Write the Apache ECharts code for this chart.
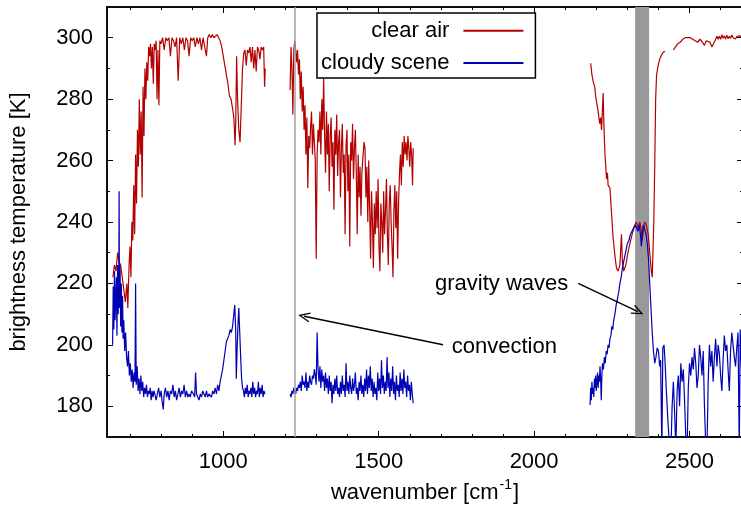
<!DOCTYPE html>
<html><head><meta charset="utf-8">
<script src="https://cdn.jsdelivr.net/npm/echarts@6/dist/echarts.min.js"></script>
<style>html,body{margin:0;padding:0;background:#fff}#c{width:741px;height:505px}</style>
</head><body><div id="c"></div>
<script>
const xMin = 626, xMax = 2672, yMin = 170, yMax = 310;
const xMajorTicks = [1000, 1500, 2000, 2500];
const xMinorTicks = [700, 800, 900, 1100, 1200, 1300, 1400, 1600, 1700, 1800, 1900, 2100, 2200, 2300, 2400, 2600];
const yMajorTicks = [180, 200, 220, 240, 260, 280, 300];
const yMinorTicks = [190, 210, 230, 250, 270, 290];
const seriesNames = ['clear air', 'cloudy scene'];
const xAxisTitle = '{a|wavenumber [cm}{s|-1}{a|]}';
const yAxisTitle = 'brightness temperature [K]';

// clear air spectrum, three measured windows [wavenumber, K]
const clearAir1 = [[645,222],[650,226],[655,224],[660,230],[665,227],[670,226],[675,222],[680,218],[685,214],[690,220],[693,212],[697,226],[700,232],[703,222],[706,240],[709,234],[712,252],[715,236],[718,262],[721,246],[724,270],[727,258],[730,280],[733,262],[736,276],[739,248],[742,284],[745,268],[748,290],[751,280],[754,292],[757,286],[760,297],[763,294],[766,298],[769,290],[772,297],[775,285],[778,298],[781,296],[784,299],[787,280],[790,296],[793,278],[796,299],[800,298],[805,300],[810,296],[815,300],[820,299],[825,300],[830,294],[835,300],[840,299],[845,297],[850,300],[855,286],[860,300],[865,298],[870,300],[875,296],[880,300],[885,299],[890,294],[895,300],[900,299],[905,300],[910,297],[915,300],[920,298],[925,300],[930,296],[935,300],[940,300],[946,294],[950,300],[955,301],[960,300],[965,301],[970,300],[975,300],[980,301],[985,300],[990,299],[995,297],[1000,294],[1005,291],[1010,288],[1015,285],[1020,281],[1025,280],[1030,277],[1034,274],[1036,270],[1038,265],[1040,272],[1043,294],[1046,280],[1050,270],[1054,266],[1058,278],[1062,290],[1066,295],[1070,296],[1074,291],[1078,296],[1082,295],[1086,297],[1090,292],[1094,297],[1098,290],[1102,296],[1106,289],[1110,297],[1114,296],[1118,293],[1122,297],[1126,296],[1130,297],[1133,284],[1135,290]];
const clearAir2 = [[1215,283],[1218,297],[1221,290],[1224,275],[1227,296],[1230,299],[1233,296],[1236,292],[1239,296],[1242,288],[1245,293],[1248,280],[1251,289],[1254,276],[1257,284],[1260,270],[1263,278],[1266,262],[1269,274],[1272,251],[1275,268],[1278,264],[1281,271],[1284,276],[1287,262],[1290,272],[1293,266],[1296,260],[1299,228],[1302,262],[1305,270],[1308,266],[1311,276],[1314,262],[1317,280],[1320,270],[1323,287],[1326,268],[1329,256],[1332,276],[1335,262],[1338,272],[1341,250],[1344,268],[1347,274],[1350,258],[1353,266],[1356,244],[1359,270],[1362,262],[1365,275],[1368,255],[1371,266],[1374,270],[1377,248],[1380,264],[1383,272],[1386,256],[1389,262],[1392,236],[1395,265],[1398,270],[1401,250],[1404,262],[1407,232],[1410,266],[1413,260],[1416,272],[1419,254],[1422,264],[1425,270],[1428,256],[1431,236],[1434,262],[1437,248],[1440,258],[1443,242],[1446,256],[1450,262],[1453,266],[1456,264],[1459,248],[1462,258],[1465,240],[1468,260],[1471,244],[1474,228],[1477,250],[1480,240],[1483,225],[1486,246],[1489,236],[1492,250],[1495,238],[1498,254],[1501,232],[1504,224],[1507,246],[1510,240],[1513,230],[1516,250],[1519,236],[1522,244],[1525,254],[1528,236],[1531,226],[1534,246],[1537,252],[1540,240],[1543,232],[1546,222],[1549,244],[1552,252],[1555,238],[1558,250],[1561,228],[1564,246],[1567,256],[1570,262],[1573,252],[1576,266],[1579,258],[1582,268],[1585,262],[1588,266],[1591,260],[1594,268],[1597,264],[1600,258],[1603,266],[1606,262],[1609,252],[1611,264]];
const clearAir3 = [[2182,291.7],[2186,288],[2190,285.7],[2195,284],[2198,281],[2201,279],[2206,276],[2211,272],[2214,274],[2217,270],[2222,282],[2225,270],[2228,262],[2233,254],[2236,256],[2238,252],[2244,251],[2249,243],[2254,235],[2260,229],[2265,225],[2270,224],[2276,226],[2281,236],[2284,227],[2288,224],[2295,226],[2302,230],[2308,233],[2313,235],[2318,237],[2324,239],[2329,240],[2334,238],[2340,240],[2345,237],[2348,234],[2352,238],[2356,240],[2361,239],[2367,236],[2372,230],[2377,224],[2380,222],[2385,240],[2388,258],[2391,280],[2394,288],[2399,291],[2404,293],[2411,294.6],[2416,295.3],[2421,295.5],[2434,null],[2448,296],[2455,297],[2462,298],[2470,298.5],[2478,299.5],[2486,300],[2494,300],[2502,300],[2510,299.5],[2518,299],[2526,298.5],[2534,299.5],[2542,298.5],[2548,297.5],[2554,299],[2560,299.5],[2566,298.5],[2572,297],[2578,297.5],[2584,299.5],[2588,300.5],[2592,299.5],[2596,300.5],[2600,299.5],[2604,301],[2608,299.8],[2612,300.6],[2616,299.6],[2620,300.8],[2624,299.7],[2628,300.5],[2632,299.8],[2636,300.9],[2640,300],[2644,300.5],[2648,299.6],[2652,300.4],[2656,300],[2660,300.6],[2672,300.2]];

// cloudy scene spectrum
const cloudy1 = [[644,200],[646,219],[648,205],[650,224],[652,208],[654,216],[656,222],[658,203],[660,226],[662,210],[664,224],[665,250],[666,212],[668,226],[670,206],[672,220],[674,204],[676,216],[678,202],[680,208],[683,198],[686,204],[689,196],[692,193],[695,198],[698,190],[701,194],[704,188],[707,192],[710,186],[713,191],[716,188],[718,220],[720,187],[723,193],[726,185],[729,189],[732,184],[735,190],[738,185],[741,188],[744,183],[747,186],[750,184],[753,187],[756,183],[759,185],[762,184],[765,186],[768,182],[771,185],[774,183],[777,185],[780,184],[784,182],[788,184],[792,186],[796,183],[800,185],[804,181],[807,179],[810,184],[814,186],[818,183],[822,185],[826,182],[830,185],[834,184],[838,187],[842,183],[846,185],[850,182],[854,184],[858,186],[862,183],[866,185],[870,184],[874,187],[878,183],[882,185],[886,183],[890,184],[894,183],[898,185],[904,184],[908,183],[911,191],[914,184],[918,183],[922,182],[926,184],[930,183],[934,185],[938,184],[942,183],[946,185],[950,183],[954,184],[958,184],[962,183],[966,185],[970,184],[974,186],[978,184],[982,187],[986,185],[990,188],[994,190],[998,192],[1002,195],[1006,198],[1010,201],[1014,202],[1018,203],[1022,205],[1026,204],[1030,206],[1034,210],[1037,213],[1040,205],[1042,189],[1045,200],[1048,208],[1050,212],[1053,204],[1056,196],[1059,189],[1062,186],[1065,185],[1068,183],[1071,186],[1074,184],[1077,187],[1080,183],[1083,185],[1086,184],[1089,186],[1092,183],[1095,188],[1098,184],[1101,186],[1104,183],[1107,185],[1110,184],[1113,188],[1116,183],[1119,186],[1122,184],[1125,187],[1128,183],[1131,185],[1134,184]];
const cloudy2 = [[1215,184],[1218,183],[1221,185],[1224,184],[1227,186],[1230,185],[1233,184],[1236,186],[1239,185],[1242,187],[1245,186],[1248,188],[1251,185],[1254,190],[1257,187],[1260,188],[1263,186],[1266,191],[1269,185],[1272,188],[1275,186],[1278,190],[1281,188],[1284,187],[1287,190],[1290,189],[1293,192],[1296,190],[1299,187],[1302,204],[1305,192],[1308,188],[1311,193],[1314,186],[1317,192],[1320,188],[1323,190],[1326,185],[1329,191],[1332,186],[1335,189],[1338,184],[1341,190],[1344,185],[1347,188],[1350,181],[1353,187],[1356,184],[1359,189],[1362,185],[1365,190],[1368,184],[1371,186],[1374,183],[1377,188],[1380,184],[1383,190],[1386,185],[1389,187],[1392,183],[1395,194],[1398,185],[1401,188],[1404,184],[1407,190],[1410,186],[1413,184],[1416,189],[1419,185],[1422,187],[1425,191],[1428,184],[1431,186],[1434,182],[1437,188],[1440,185],[1443,190],[1446,184],[1449,187],[1452,183],[1455,189],[1458,185],[1461,192],[1464,184],[1467,190],[1470,186],[1473,193],[1476,185],[1479,189],[1482,183],[1485,188],[1488,184],[1491,186],[1494,182],[1497,191],[1500,185],[1503,189],[1506,184],[1509,195],[1512,186],[1515,190],[1518,184],[1521,188],[1524,185],[1527,196],[1530,186],[1533,191],[1536,183],[1539,189],[1542,185],[1545,193],[1548,184],[1551,188],[1554,182],[1557,190],[1560,185],[1563,187],[1566,183],[1569,191],[1572,185],[1575,189],[1578,184],[1581,192],[1584,186],[1587,188],[1590,183],[1593,190],[1596,185],[1599,187],[1602,182],[1605,188],[1608,184],[1611,181]];
const cloudy3 = [[2180,180.4],[2182,186],[2184,182],[2186,188],[2188,184],[2190,186],[2192,183],[2194,189],[2196,186],[2198,190],[2200,185],[2202,188],[2204,191],[2206,186],[2208,190],[2210,188],[2212,193],[2214,189],[2216,182],[2218,190],[2220,194],[2223,192],[2226,196],[2229,194],[2232,198],[2235,197],[2238,200],[2241,199],[2244,202],[2247,203],[2250,206],[2253,205],[2256,208],[2260,210],[2264,213],[2268,215],[2272,217],[2276,220],[2280,222],[2284,225],[2288,227],[2292,229],[2296,231],[2300,233],[2305,234],[2310,236],[2315,236],[2320,238],[2325,239],[2330,239],[2334,237],[2338,239],[2342,236],[2345,232],[2348,236],[2351,239],[2355,238],[2360,236],[2364,233],[2368,228],[2372,220],[2376,212],[2380,204],[2384,198],[2388,194],[2392,196],[2396,199],[2400,198],[2404,193],[2407,195],[2411,165],[2414,199],[2418,200],[2421,195],[2425,186],[2430,176],[2435,168],[2440,165],[2444,180],[2448,188],[2452,178],[2456,166],[2460,185],[2464,190],[2468,180],[2472,194],[2476,188],[2480,192],[2484,182],[2488,170],[2492,165],[2496,186],[2500,194],[2504,190],[2508,196],[2512,192],[2516,199],[2520,194],[2524,186],[2528,190],[2532,200],[2536,196],[2540,190],[2544,198],[2548,180],[2552,168],[2556,165],[2560,188],[2564,200],[2568,193],[2572,198],[2576,188],[2580,196],[2584,202],[2588,193],[2592,200],[2596,197],[2600,190],[2604,185],[2608,195],[2612,203],[2616,198],[2620,200],[2624,192],[2628,185],[2632,198],[2636,204],[2640,200],[2644,196],[2648,193],[2652,199],[2656,204],[2660,165],[2663,205],[2668,190]];

const convectionLineWn = 1231;
const co2Band = [2325, 2370];
const convectionArrow = [[1707, 200], [1260, 209.3]];
const gravityArrow = [[2142, 220], [2334, 210.8]];
const convectionLabel = [1735, 199.4];
const gravityLabel = [2110, 219.8];

const FONT = '"Liberation Sans", Arial, Helvetica, sans-serif';
const FS = 22;
const RED = '#b40000', BLUE = '#0000b4', GRAY = '#999999';
const ARROW = 'path://M5,0 L10,11 L8.8,11.5 L5,3 L1.2,11.5 L0,11 Z';

function joinSegments(segs) {
  const out = [];
  segs.forEach((s, i) => {
    if (i > 0) out.push([(segs[i-1][segs[i-1].length-1][0] + s[0][0]) / 2, null]);
    s.forEach(p => out.push(p));
  });
  return out;
}

const axisLineStyle = { color: '#000', width: 1.5 };
function xAx(pos, ticks, len, withLabels) {
  return {
    type: 'value', min: xMin, max: xMax, position: pos,
    axisLine: { show: true, onZero: false, lineStyle: axisLineStyle },
    axisTick: { show: true, inside: true, length: len, customValues: ticks, lineStyle: { color: '#000', width: 1 } },
    axisLabel: withLabels ? { show: true, customValues: ticks, formatter: v => String(v), fontSize: FS, color: '#000', fontFamily: FONT, margin: 14 } : { show: false },
    splitLine: { show: false }
  };
}
function yAx(pos, ticks, len, withLabels) {
  return {
    type: 'value', min: yMin, max: yMax, position: pos,
    axisLine: { show: true, onZero: false, lineStyle: axisLineStyle },
    axisTick: { show: true, inside: true, length: len, customValues: ticks, lineStyle: { color: '#000', width: 1 } },
    axisLabel: withLabels ? { show: true, customValues: ticks, formatter: v => String(v), fontSize: FS, color: '#000', fontFamily: FONT, margin: 14 } : { show: false },
    splitLine: { show: false }
  };
}

const xMain = xAx('bottom', xMajorTicks, 6, true);
xMain.name = xAxisTitle;
xMain.nameLocation = 'middle';
xMain.nameGap = 41;
xMain.nameTextStyle = { rich: {
  a: { fontSize: FS, fontFamily: FONT, color: '#000', lineHeight: 26, verticalAlign: 'bottom' },
  s: { fontSize: 14, fontFamily: FONT, color: '#000', lineHeight: 26, verticalAlign: 'top', padding: [0, 1, 0, 1] }
} };
const yMain = yAx('left', yMajorTicks, 6, true);
yMain.name = yAxisTitle;
yMain.nameLocation = 'middle';
yMain.nameGap = 77;
yMain.nameTextStyle = { fontSize: FS, fontFamily: FONT, color: '#000' };

const chart = echarts.init(document.getElementById('c'), null, { renderer: 'canvas' });
chart.setOption({
  animation: false,
  backgroundColor: '#fff',
  grid: { left: 107, top: 7, width: 636, height: 430, show: false, containLabel: false, outerBoundsMode: 'none' },
  legend: {
    show: true, orient: 'vertical', left: 317, top: 13, align: 'right', selectedMode: false,
    data: [{ name: seriesNames[0], icon: 'rect' }, { name: seriesNames[1], icon: 'rect' }],
    itemWidth: 60, itemHeight: 2, itemGap: 10.3,
    borderColor: '#000', borderWidth: 1.5, padding: [6.7, 12, 4, 4],
    formatter: n => '{t|' + n + '}',
    textStyle: { fontSize: FS, fontFamily: FONT, color: '#000',
      rich: { t: { fontSize: FS, fontFamily: FONT, color: '#000', width: 126, align: 'right', lineHeight: 26, padding: [0, 9, 0, 0] } } }
  },
  xAxis: [xMain, xAx('bottom', xMinorTicks, 3, false), xAx('top', xMajorTicks, 6, false), xAx('top', xMinorTicks, 3, false)],
  yAxis: [yMain, yAx('left', yMinorTicks, 3, false), yAx('right', yMajorTicks, 6, false), yAx('right', yMinorTicks, 3, false)],
  series: [
    {
      name: seriesNames[0], type: 'line', xAxisIndex: 0, yAxisIndex: 0,
      data: joinSegments([clearAir1, clearAir2, clearAir3]),
      showSymbol: false, symbol: 'none', connectNulls: false, clip: true,
      lineStyle: { color: RED, width: 1.2 }, itemStyle: { color: RED },
      markArea: { silent: true, itemStyle: { color: GRAY, opacity: 1 }, data: [[{ xAxis: co2Band[0] }, { xAxis: co2Band[1] }]] },
      markLine: { silent: true, symbol: 'none', label: { show: false },
        lineStyle: { color: '#a0a0a0', width: 1.5, type: 'solid' }, data: [{ xAxis: convectionLineWn }] }
    },
    {
      name: seriesNames[1], type: 'line', xAxisIndex: 0, yAxisIndex: 0,
      data: joinSegments([cloudy1, cloudy2, cloudy3]),
      showSymbol: false, symbol: 'none', connectNulls: false, clip: true,
      lineStyle: { color: BLUE, width: 1.2 }, itemStyle: { color: BLUE },
      markLine: { silent: true, label: { show: false }, symbol: ['none', ARROW], symbolSize: [10, 12],
        lineStyle: { color: '#000', width: 1.5, type: 'solid' },
        data: [
          [{ coord: convectionArrow[0] }, { coord: convectionArrow[1] }],
          [{ coord: gravityArrow[0] }, { coord: gravityArrow[1] }]
        ] },
      markPoint: { silent: true, symbol: 'circle', symbolSize: 0,
        data: [
          { coord: convectionLabel, label: { show: true, formatter: 'convection', position: 'right', distance: 0, fontSize: FS, fontFamily: FONT, color: '#000' } },
          { coord: gravityLabel, label: { show: true, formatter: 'gravity waves', position: 'left', distance: 0, fontSize: FS, fontFamily: FONT, color: '#000' } }
        ] }
    }
  ]
});
</script></body></html>
